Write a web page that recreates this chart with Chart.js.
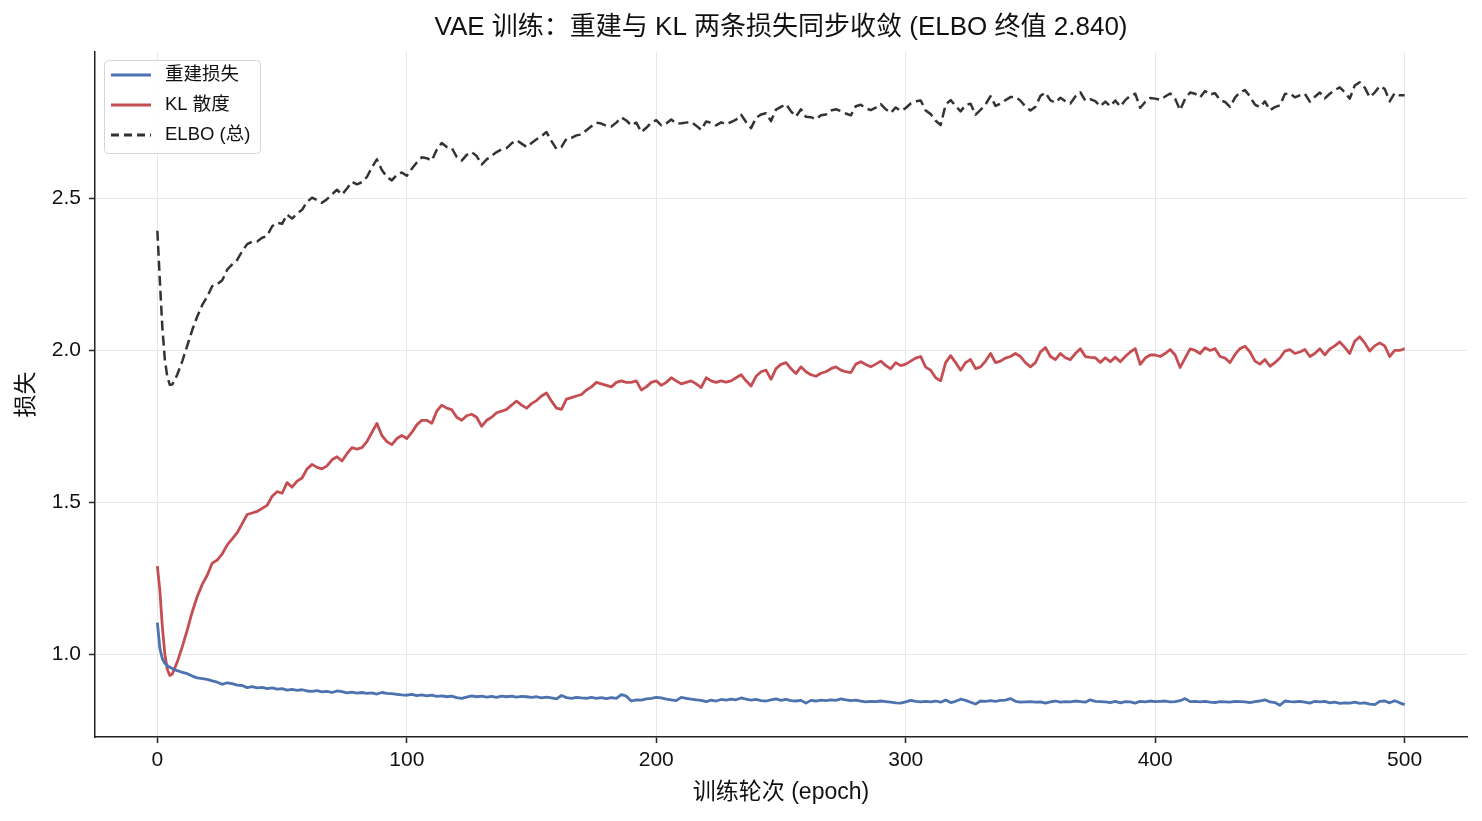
<!DOCTYPE html>
<html>
<head>
<meta charset="utf-8">
<script src="https://cdn.jsdelivr.net/npm/chart.js@4.4.1/dist/chart.umd.min.js"></script>
<style>
  html, body { margin: 0; padding: 0; background: #fff; }
  #wrap { width: 1482px; height: 821px; }
</style>
</head>
<body>
<div id="wrap"><canvas id="chart" width="1482" height="821"></canvas></div>
<script>
// epochs: every epoch up to 10, then every second epoch
const epochs = [];
for (let e = 0; e <= 10; e++) epochs.push(e);
for (let e = 12; e <= 500; e += 2) epochs.push(e);

// 重建损失
const reconLoss = [
  1.104, 1.02, 0.985, 0.97, 0.962, 0.957, 0.953, 0.949, 0.946, 0.943, 0.94,
  0.936, 0.928, 0.922, 0.92, 0.917, 0.912, 0.908, 0.901, 0.906, 0.903,
  0.898, 0.897, 0.89, 0.893, 0.889, 0.891, 0.887, 0.889, 0.885, 0.887,
  0.882, 0.884, 0.881, 0.883, 0.879, 0.878, 0.88, 0.876, 0.878, 0.874,
  0.879, 0.877, 0.873, 0.875, 0.872, 0.874, 0.871, 0.873, 0.869, 0.874,
  0.871, 0.87, 0.868, 0.866, 0.865, 0.868, 0.864, 0.866, 0.863, 0.865,
  0.861, 0.863, 0.86, 0.862, 0.857, 0.855, 0.859, 0.863, 0.86, 0.862,
  0.859, 0.861, 0.858, 0.862, 0.86, 0.862, 0.859, 0.861, 0.86, 0.858,
  0.86, 0.856, 0.859, 0.856, 0.853, 0.864, 0.857, 0.855, 0.858, 0.856,
  0.855, 0.858, 0.855, 0.857, 0.854, 0.857, 0.855, 0.867, 0.862, 0.846,
  0.85, 0.849, 0.853, 0.855, 0.858, 0.856, 0.852, 0.85, 0.847, 0.858,
  0.855, 0.852, 0.85, 0.848, 0.844, 0.849, 0.846, 0.851, 0.849, 0.852,
  0.85, 0.856, 0.852, 0.849, 0.851, 0.847, 0.846, 0.85, 0.853, 0.848,
  0.851, 0.847, 0.846, 0.848, 0.839, 0.848, 0.846, 0.849, 0.847, 0.85,
  0.848, 0.853, 0.85, 0.847, 0.849, 0.846, 0.843, 0.845, 0.844, 0.846,
  0.844, 0.842, 0.84, 0.839, 0.843, 0.848, 0.845, 0.843, 0.845, 0.843,
  0.846, 0.842, 0.849, 0.841, 0.845, 0.852, 0.848, 0.842, 0.836, 0.846,
  0.845, 0.847, 0.845, 0.848, 0.849, 0.854, 0.845, 0.842, 0.843, 0.844,
  0.842, 0.843, 0.839, 0.843, 0.846, 0.842, 0.844, 0.843, 0.846, 0.844,
  0.842, 0.85, 0.845, 0.844, 0.843, 0.841, 0.845, 0.84, 0.844, 0.843,
  0.839, 0.845, 0.843, 0.846, 0.844, 0.845, 0.846, 0.843, 0.844, 0.847,
  0.854, 0.844, 0.845, 0.843, 0.845, 0.842, 0.841, 0.844, 0.843, 0.842,
  0.845, 0.844, 0.843, 0.841, 0.844, 0.846, 0.85, 0.843, 0.841, 0.832,
  0.846, 0.844, 0.843, 0.845, 0.842, 0.839, 0.845, 0.843, 0.845, 0.84,
  0.842, 0.838, 0.84, 0.839, 0.842, 0.838, 0.84, 0.836, 0.834, 0.845,
  0.846, 0.84, 0.847, 0.84, 0.834,
];

// KL 散度
const klLoss = [
  1.29, 1.21, 1.09, 1.0, 0.95, 0.93, 0.935, 0.955, 0.975, 1.0, 1.025,
  1.08, 1.14, 1.19, 1.23, 1.26, 1.3, 1.31, 1.33, 1.36, 1.38,
  1.4, 1.43, 1.46, 1.465, 1.47, 1.48, 1.49, 1.52, 1.535, 1.53,
  1.565, 1.55, 1.57, 1.58, 1.61, 1.625, 1.615, 1.61, 1.62, 1.64,
  1.65, 1.636, 1.66, 1.68, 1.675, 1.68, 1.7, 1.73, 1.76, 1.72,
  1.7, 1.69, 1.71, 1.72, 1.71, 1.73, 1.755, 1.77, 1.77, 1.76,
  1.8, 1.82, 1.81, 1.805, 1.78, 1.77, 1.785, 1.79, 1.78, 1.75,
  1.77, 1.78, 1.795, 1.8, 1.806, 1.82, 1.833, 1.82, 1.81, 1.825,
  1.835, 1.85, 1.86, 1.833, 1.81, 1.806, 1.84, 1.845, 1.85, 1.855,
  1.87, 1.88, 1.895, 1.89, 1.885, 1.88, 1.895, 1.9, 1.895, 1.895,
  1.9, 1.87, 1.88, 1.895, 1.9, 1.885, 1.895, 1.91, 1.9, 1.89,
  1.895, 1.9, 1.89, 1.878, 1.91, 1.9, 1.895, 1.9, 1.896, 1.9,
  1.91, 1.92, 1.9, 1.883, 1.915, 1.93, 1.935, 1.905, 1.94, 1.954,
  1.96, 1.94, 1.924, 1.946, 1.93, 1.92, 1.915, 1.925, 1.93, 1.94,
  1.946, 1.935, 1.93, 1.927, 1.955, 1.963, 1.954, 1.946, 1.955, 1.965,
  1.95, 1.94, 1.96, 1.95, 1.955, 1.965, 1.975, 1.98, 1.945, 1.935,
  1.91, 1.9, 1.96, 1.983, 1.96, 1.935, 1.96, 1.97, 1.94, 1.946,
  1.965, 1.99, 1.96, 1.965, 1.975, 1.98, 1.99, 1.98, 1.96, 1.946,
  1.96, 1.995, 2.01, 1.98, 1.97, 1.99, 1.976, 1.97, 1.99, 2.006,
  1.98, 1.977, 1.976, 1.96, 1.976, 1.963, 1.978, 1.963, 1.98, 1.995,
  2.006, 1.954, 1.975, 1.985, 1.985, 1.98, 1.99, 2.003, 1.985, 1.944,
  1.975, 2.005, 2.0, 1.99, 2.009, 2.0, 2.006, 1.98, 1.975, 1.96,
  1.987, 2.006, 2.014, 1.995, 1.965, 1.955, 1.97, 1.948, 1.96, 1.975,
  1.998, 2.003, 1.99, 1.995, 2.003, 1.98, 1.99, 2.006, 1.985, 2.005,
  2.015, 2.028, 2.01, 1.99, 2.03, 2.045, 2.025, 1.998, 2.015, 2.025,
  2.015, 1.98, 2.0, 2.0, 2.006,
];

// ELBO (总) is the sum of the two terms
const elboLoss = reconLoss.map((v, i) => v + klLoss[i]);

const xTicks = [0, 100, 200, 300, 400, 500];
const yTicks = [1.0, 1.5, 2.0, 2.5];

const seriesNames = ['重建损失', 'KL 散度', 'ELBO (总)'];
const seriesColors = ['#4c72b0', '#c44e52', '#333333'];

const FONT = "'Liberation Sans', Arial, 'Noto Sans CJK SC', sans-serif";
const TEXT = '#111';
const DASH = [10, 5];

const finalElbo = elboLoss[elboLoss.length - 1].toFixed(3);
const titleText = `VAE 训练：重建与 KL 两条损失同步收敛 (ELBO 终值 ${finalElbo})`;

const toPoints = (values) => values.map((v, i) => ({ x: epochs[i], y: v }));

const textPlugin = {
  id: 'texts',
  afterDraw(chart) {
    const { ctx, chartArea } = chart;
    const cx = (chartArea.left + chartArea.right) / 2;
    const cy = (chartArea.top + chartArea.bottom) / 2;
    ctx.save();
    ctx.fillStyle = TEXT;
    ctx.textAlign = 'center';
    ctx.textBaseline = 'middle';
    ctx.font = `26px ${FONT}`;
    ctx.fillText(titleText, cx, 28);
    ctx.font = `23px ${FONT}`;
    ctx.fillText('训练轮次 (epoch)', cx, 793);
    ctx.translate(27, cy);
    ctx.rotate(-Math.PI / 2);
    ctx.fillText('损失', 0, 0);
    ctx.restore();
  },
};

const legendPlugin = {
  id: 'boxLegend',
  afterDatasetsDraw(chart) {
    const { ctx } = chart;
    const x = 104;
    const y = 60;
    const w = 156;
    const h = 93;
    ctx.save();
    ctx.beginPath();
    ctx.roundRect(x + 0.5, y + 0.5, w, h, 4);
    ctx.fillStyle = 'rgba(255,255,255,0.85)';
    ctx.fill();
    ctx.strokeStyle = '#d6d6d6';
    ctx.lineWidth = 1;
    ctx.stroke();

    ctx.font = `18.5px ${FONT}`;
    ctx.textAlign = 'left';
    ctx.textBaseline = 'middle';
    seriesNames.forEach((name, i) => {
      const ly = 75 + i * 30;
      ctx.beginPath();
      ctx.setLineDash(i === 2 ? [8, 5] : []);
      ctx.lineWidth = 3;
      ctx.strokeStyle = seriesColors[i];
      ctx.moveTo(111, ly);
      ctx.lineTo(151, ly);
      ctx.stroke();
      ctx.setLineDash([]);
      ctx.fillStyle = TEXT;
      ctx.fillText(name, 165, ly);
    });
    ctx.restore();
  },
};

const data = {
  datasets: [
    {
      label: seriesNames[0],
      data: toPoints(reconLoss),
      borderColor: seriesColors[0],
      borderWidth: 2.8,
    },
    {
      label: seriesNames[1],
      data: toPoints(klLoss),
      borderColor: seriesColors[1],
      borderWidth: 2.8,
    },
    {
      label: seriesNames[2],
      data: toPoints(elboLoss),
      borderColor: seriesColors[2],
      borderWidth: 2.5,
      borderDash: DASH,
    },
  ],
};

const options = {
  responsive: false,
  animation: false,
  devicePixelRatio: 1,
  layout: {
    padding: { left: 0, right: 15, top: 52, bottom: 0 },
  },
  elements: {
    point: { radius: 0 },
    line: { tension: 0, borderJoinStyle: 'round' },
  },
  plugins: {
    legend: { display: false },
    tooltip: { enabled: false },
    title: { display: false },
  },
  scales: {
    x: {
      type: 'linear',
      min: -25,
      max: 525,
      afterBuildTicks: (scale) => {
        scale.ticks = xTicks.map((v) => ({ value: v }));
      },
      afterFit: (scale) => {
        scale.height = 84;
      },
      ticks: {
        color: TEXT,
        font: { family: FONT, size: 21 },
        padding: 5,
        maxRotation: 0,
      },
      grid: {
        color: '#e8e8e8',
        lineWidth: 1,
        tickColor: '#222',
        tickLength: 6,
        tickWidth: 1.5,
      },
      border: { color: '#222', width: 1.5 },
    },
    y: {
      type: 'linear',
      min: 0.7275,
      max: 2.9825,
      afterBuildTicks: (scale) => {
        scale.ticks = yTicks.map((v) => ({ value: v }));
      },
      afterFit: (scale) => {
        scale.width = 95;
      },
      ticks: {
        color: TEXT,
        font: { family: FONT, size: 21 },
        padding: 8,
        callback: (v) => Number(v).toFixed(1),
      },
      grid: {
        color: '#e8e8e8',
        lineWidth: 1,
        tickColor: '#222',
        tickLength: 6,
        tickWidth: 1.5,
      },
      border: { color: '#222', width: 1.5 },
    },
  },
};

new Chart(document.getElementById('chart').getContext('2d'), {
  type: 'line',
  data,
  options,
  plugins: [legendPlugin, textPlugin],
});
</script>
</body>
</html>
